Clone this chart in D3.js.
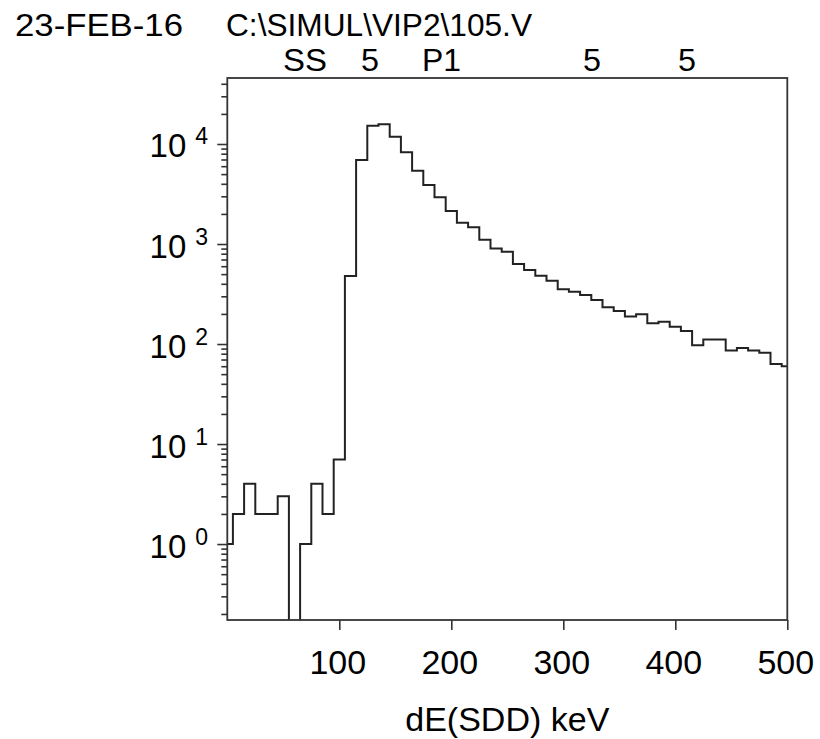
<!DOCTYPE html>
<html>
<head>
<meta charset="utf-8">
<script src="https://cdn.jsdelivr.net/npm/d3@7"></script>
<style>
  body { margin: 0; background: #fff; }
  svg text { font-family: "Liberation Sans", Arial, sans-serif; fill: #000; }
</style>
</head>
<body>
<svg id="chart" width="820" height="739"></svg>
<script>
// bin centres (keV) and counts per 10 keV bin
const binCenters = [0, 10, 20, 30, 40, 50, 60, 70, 80, 90,
  100, 110, 120, 130, 140, 150, 160, 170, 180, 190,
  200, 210, 220, 230, 240, 250, 260, 270, 280, 290,
  300, 310, 320, 330, 340, 350, 360, 370, 380, 390,
  400, 410, 420, 430, 440, 450, 460, 470, 480, 490, 500]
const counts = [1, 2, 4, 2, 2, 3, 0, 1, 4, 2,
  7, 480, 6900, 15200, 15800, 11800, 8260, 5400, 3890, 2930,
  2140, 1630, 1470, 1100, 900, 835, 630, 550, 482, 430,
  352, 333, 309, 275, 233, 214, 188, 198, 161, 167,
  149, 135, 97, 111, 111, 86, 91, 86, 82, 63, 60]
const binWidth = 10

const xTicks = [100, 200, 300, 400, 500]
const yDecades = [0, 1, 2, 3, 4]
const yDomain = [0.174, 45700]

const headerLine1 = ['23-FEB-16', 'C:\\SIMUL\\VIP2\\105.V']
const headerLine2 = ['SS', '5', 'P1', '5', '5']
const xTitle = 'dE(SDD) keV'

const margin = { top: 78, left: 227.3 }
const width = 560
const height = 542

const svg = d3.select('#chart')
const g = svg.append('g').attr('transform', `translate(${margin.left},${margin.top})`)

const xScale = d3.scaleLinear().domain([0, 500]).range([0, width])
const yScale = d3.scaleLog().domain(yDomain).range([height, 0])

// header texts, stretched to the widths seen in the reference
const line1X = [15, 226]
const line1W = [168, 306]
headerLine1.forEach((t, i) => {
  svg.append('text')
    .attr('x', line1X[i]).attr('y', 36)
    .attr('textLength', line1W[i]).attr('lengthAdjust', 'spacingAndGlyphs')
    .style('font-size', '31px')
    .text(t)
})
const line2X = [283, 361, 422, 583, 678]
const line2W = [44, 18, 39, 18, 18]
headerLine2.forEach((t, i) => {
  svg.append('text')
    .attr('x', line2X[i]).attr('y', 71)
    .attr('textLength', line2W[i]).attr('lengthAdjust', 'spacingAndGlyphs')
    .style('font-size', '31px')
    .text(t)
})

// clip for the histogram
g.append('clipPath').attr('id', 'plot-clip')
  .append('rect').attr('width', width).attr('height', height)

// step outline of the histogram
const pts = []
binCenters.forEach((c, i) => {
  const y = counts[i] > 0 ? yScale(counts[i]) : height + 20
  pts.push([xScale(c - binWidth / 2), y])
  pts.push([xScale(c + binWidth / 2), y])
})
g.append('path')
  .attr('clip-path', 'url(#plot-clip)')
  .attr('d', d3.line()(pts))
  .attr('fill', 'none')
  .attr('stroke', '#222')
  .attr('stroke-width', 2)

// y minor ticks
const minorTicks = []
for (let d = -1; d <= 4; d++) {
  for (let m = 2; m <= 9; m++) {
    const v = m * 10 ** d
    if (v >= yDomain[0] && v <= yDomain[1]) minorTicks.push(v)
  }
}
const yMinor = g.append('g')
  .call(d3.axisLeft(yScale).tickValues(minorTicks).tickSize(6).tickFormat(''))
yMinor.select('.domain').remove()

const yMajor = g.append('g')
  .call(d3.axisLeft(yScale).tickValues(yDecades.map(p => 10 ** p)).tickSize(10).tickFormat(''))
yMajor.select('.domain').remove()
yMajor.selectAll('.tick').each(function (v) {
  const tick = d3.select(this)
  tick.append('text')
    .attr('x', -41).attr('y', 13)
    .attr('text-anchor', 'end')
    .style('font-size', '33px')
    .text('10')
  tick.append('text')
    .attr('x', -32).attr('y', 0)
    .attr('text-anchor', 'start')
    .style('font-size', '23px')
    .text(Math.round(Math.log10(v)))
})
g.selectAll('.tick line').attr('stroke', '#333').attr('stroke-width', 1.6)

// x axis
const xAxis = g.append('g')
  .attr('transform', `translate(0,${height})`)
  .call(d3.axisBottom(xScale).tickValues(xTicks).tickSize(10).tickPadding(20))
xAxis.select('.domain').remove()
xAxis.selectAll('.tick line').attr('stroke', '#333').attr('stroke-width', 1.6)
xAxis.selectAll('.tick text')
  .attr('x', -2)
  .style('font-size', '34px')
  .style('font-family', '"Liberation Sans", Arial, sans-serif')

// frame
g.append('rect')
  .attr('width', width).attr('height', height)
  .attr('fill', 'none')
  .attr('stroke', '#333')
  .attr('stroke-width', 1.8)

svg.append('text')
  .attr('x', margin.left + width / 2)
  .attr('y', 731)
  .attr('text-anchor', 'middle')
  .style('font-size', '34px')
  .text(xTitle)
</script>
</body>
</html>
